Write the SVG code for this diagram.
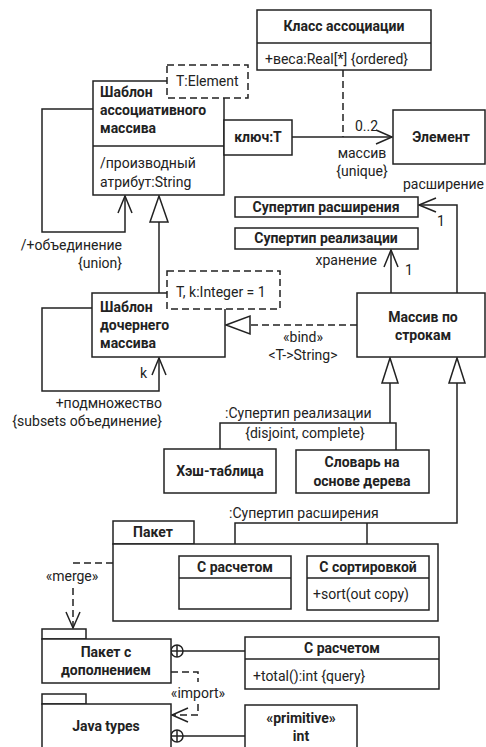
<svg xmlns="http://www.w3.org/2000/svg" width="486" height="747" viewBox="0 0 486 747">
  <defs>
    <style>
      text { font-family: Roboto, "Liberation Sans", sans-serif; font-size: 14px; fill: #222; }
      .b { font-weight: bold; }
      .m { text-anchor: middle; }
      .e { text-anchor: end; }
      .box { fill: #fff; stroke: #222; stroke-width: 1.5; }
      .dbox { fill: #fff; stroke: #222; stroke-width: 1.5; stroke-dasharray: 7 4; }
      .ln { fill: none; stroke: #222; stroke-width: 1.5; }
      .dl { fill: none; stroke: #222; stroke-width: 1.5; stroke-dasharray: 7 4; }
      .tri { fill: #fff; stroke: #222; stroke-width: 1.5; }
    </style>
  </defs>

  <!-- connectors -->
  <g id="connectors">
    <!-- derived union self-association -->
    <polyline class="ln" points="93,109 42,109 42,232 125,232 125,196"/>
    <polyline class="ln" points="118,213 125,196 132,213"/>
    <!-- subset self-association -->
    <polyline class="ln" points="92,308 42,308 42,391 159,391 159,358"/>
    <polyline class="ln" points="152,375 159,358 166,375"/>
    <!-- generalization child -> associative template -->
    <line class="ln" x1="159" y1="222" x2="159" y2="293"/>
    <polygon class="tri" points="159,196 150,222 168,222"/>
    <!-- qualified association to Element -->
    <line class="ln" x1="292" y1="137" x2="392" y2="137"/>
    <polyline class="ln" points="376,130 392,137 376,144"/>
    <!-- association class link -->
    <line class="dl" x1="343" y1="70" x2="343" y2="137"/>
    <!-- bind -->
    <line class="dl" x1="357" y1="325" x2="250" y2="325"/>
    <polygon class="tri" points="226,325 250,316 250,334"/>
    <!-- storage association -->
    <line class="ln" x1="391" y1="293" x2="391" y2="250"/>
    <polyline class="ln" points="384,267 391,250 398,267"/>
    <!-- extension association -->
    <polyline class="ln" points="457,293 457,205 419,205"/>
    <polyline class="ln" points="436,198 419,205 436,212"/>
    <!-- realization supertype generalization set -->
    <polygon class="tri" points="390,358 382,383 398,383"/>
    <line class="ln" x1="390" y1="383" x2="390" y2="423"/>
    <polyline class="ln" points="220,449 220,423 396,423 396,450"/>
    <!-- extension supertype generalization set -->
    <polygon class="tri" points="457,358 449,383 465,383"/>
    <polyline class="ln" points="457,383 457,523 235,523 235,556"/>
    <line class="ln" x1="367" y1="523" x2="367" y2="556"/>
    <!-- merge (broken around its label) -->
    <line class="dl" x1="113" y1="563" x2="73" y2="563"/>
    <line class="dl" x1="73" y1="588" x2="73" y2="628"/>
    <polyline class="ln" points="66,612 73,628 80,612"/>
    <!-- containment -->
    <line class="ln" x1="183" y1="651" x2="245" y2="651"/>
    <circle class="box" cx="177" cy="651" r="6"/>
    <line class="ln" x1="171" y1="651" x2="183" y2="651"/>
    <line class="ln" x1="177" y1="645" x2="177" y2="657"/>
    <line class="ln" x1="183" y1="736" x2="245" y2="736"/>
    <circle class="box" cx="177" cy="736" r="6"/>
    <line class="ln" x1="171" y1="736" x2="183" y2="736"/>
    <line class="ln" x1="177" y1="730" x2="177" y2="742"/>
    <!-- import (broken around its label) -->
    <polyline class="dl" points="171,672 198,672 198,682"/>
    <polyline class="dl" points="198,704 198,715 172,715"/>
    <polyline class="ln" points="188,708 172,715 188,722"/>
  </g>

  <!-- connector labels -->
  <g id="labels">
    <text x="122" y="250" class="e">/+объединение</text>
    <text x="122" y="268" class="e">{union}</text>
    <text x="140" y="378">k</text>
    <text x="162" y="408" class="e">+подмножество</text>
    <text x="162" y="426" class="e">{subsets объединение}</text>
    <text x="355" y="131">0..2</text>
    <text x="362" y="158" class="m">массив</text>
    <text x="362" y="176" class="m">{unique}</text>
    <text x="484" y="189" class="e">расширение</text>
    <text x="437" y="226">1</text>
    <text x="377" y="265" class="e">хранение</text>
    <text x="405" y="275">1</text>
    <text x="303" y="342" class="m">«bind»</text>
    <text x="303" y="360" class="m">&lt;T-&gt;String&gt;</text>
    <text x="225" y="418">:Супертип реализации</text>
    <text x="305" y="438" class="m">{disjoint, complete}</text>
    <text x="229" y="518">:Супертип расширения</text>
    <text x="72" y="581" class="m">«merge»</text>
    <text x="198" y="698" class="m">«import»</text>
  </g>

  <g id="assoc-template">
    <rect class="box" x="93" y="81" width="131" height="114"/>
    <line class="ln" x1="93" y1="146" x2="224" y2="146"/>
    <text x="100" y="97" class="b">Шаблон</text>
    <text x="100" y="115" class="b">ассоциативного</text>
    <text x="100" y="133" class="b">массива</text>
    <text x="100" y="168">/производный</text>
    <text x="100" y="187">атрибут:String</text>
  </g>

  <g id="template-param-element">
    <rect class="dbox" x="167" y="65" width="81" height="33"/>
    <text x="176" y="86">T:Element</text>
  </g>

  <g id="qualifier">
    <rect class="box" x="224" y="120" width="68" height="35"/>
    <text x="258" y="142" class="m b">ключ:T</text>
  </g>

  <g id="assoc-class">
    <rect class="box" x="257" y="10" width="174" height="60"/>
    <line class="ln" x1="257" y1="43" x2="431" y2="43"/>
    <text x="344" y="31" class="m b">Класс ассоциации</text>
    <text x="265" y="64">+веса:Real[*] {ordered}</text>
  </g>

  <g id="element">
    <rect class="box" x="393" y="110" width="92" height="54"/>
    <text x="441" y="142" class="m b">Элемент</text>
  </g>

  <g id="ext-supertype">
    <rect class="box" x="235" y="197" width="183" height="20"/>
    <text x="326" y="212" class="m b">Супертип расширения</text>
  </g>

  <g id="impl-supertype">
    <rect class="box" x="235" y="228" width="183" height="21"/>
    <text x="326" y="243" class="m b">Супертип реализации</text>
  </g>

  <g id="child-template">
    <rect class="box" x="92" y="293" width="133" height="64"/>
    <text x="100" y="312" class="b">Шаблон</text>
    <text x="100" y="330" class="b">дочернего</text>
    <text x="100" y="348" class="b">массива</text>
  </g>

  <g id="template-param-k">
    <rect class="dbox" x="167" y="271" width="113" height="38"/>
    <text x="176" y="297">T, k:Integer = 1</text>
  </g>

  <g id="string-array">
    <rect class="box" x="357" y="293" width="128" height="64"/>
    <text x="423" y="322" class="m b">Массив по</text>
    <text x="423" y="340" class="m b">строкам</text>
  </g>

  <g id="hash-table">
    <rect class="box" x="164" y="449" width="112" height="44"/>
    <text x="220" y="476" class="m b">Хэш-таблица</text>
  </g>

  <g id="tree-dict">
    <rect class="box" x="296" y="450" width="133" height="43"/>
    <text x="362" y="467" class="m b">Словарь на</text>
    <text x="362" y="486" class="m b">основе дерева</text>
  </g>

  <g id="package">
    <rect class="box" x="113" y="521" width="81" height="23"/>
    <rect class="box" x="113" y="544" width="325" height="77"/>
    <text x="153" y="537" class="m b">Пакет</text>
  </g>

  <g id="with-calc-inner">
    <rect class="box" x="179" y="556" width="112" height="53"/>
    <line class="ln" x1="179" y1="578" x2="291" y2="578"/>
    <text x="235" y="572" class="m b">С расчетом</text>
  </g>

  <g id="with-sort">
    <rect class="box" x="307" y="556" width="122" height="54"/>
    <line class="ln" x1="307" y1="578" x2="429" y2="578"/>
    <text x="368" y="572" class="m b">С сортировкой</text>
    <text x="313" y="599">+sort(out copy)</text>
  </g>

  <g id="merged-package">
    <rect class="box" x="42" y="629" width="44" height="10"/>
    <rect class="box" x="42" y="639" width="129" height="44"/>
    <text x="106" y="657" class="m b">Пакет с</text>
    <text x="106" y="675" class="m b">дополнением</text>
  </g>

  <g id="with-calc">
    <rect class="box" x="245" y="637" width="194" height="52"/>
    <line class="ln" x1="245" y1="659" x2="439" y2="659"/>
    <text x="342" y="653" class="m b">С расчетом</text>
    <text x="253" y="681">+total():int {query}</text>
  </g>

  <g id="java-types">
    <rect class="box" x="42" y="694" width="44" height="10"/>
    <rect class="box" x="42" y="704" width="129" height="60"/>
    <text x="106" y="731" class="m b">Java types</text>
  </g>

  <g id="primitive-int">
    <rect class="box" x="245" y="705" width="112" height="60"/>
    <text x="301" y="723" class="m b">«primitive»</text>
    <text x="301" y="741" class="m b">int</text>
  </g>
</svg>
